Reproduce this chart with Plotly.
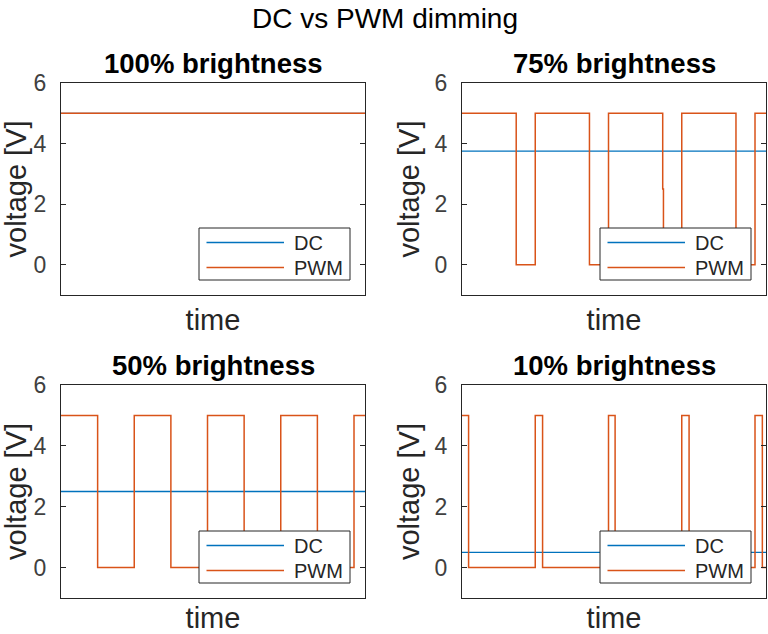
import plotly.graph_objects as go

W, H = 768, 634
BLUE = "#0072BD"
ORANGE = "#D95319"
AX = "#262626"
FONT = "Liberation Sans, Arial, sans-serif"

panel_titles = ["100% brightness", "75% brightness", "50% brightness", "10% brightness"]
legend_labels = ["DC", "PWM"]
dc_level = [5, 3.75, 2.5, 0.5]
t_end = 4.15

# PWM switching instants (in PWM periods) and the level held after each one
pwm100_t = [0.0]
pwm100_v = [5]
pwm75_t = [0.0, 0.74, 1.0, 1.74, 2.0, 2.74, 2.75, 3.0, 3.74, 4.0]
pwm75_v = [5, 0, 5, 0, 5, 2.5, 0, 5, 0, 5]
pwm50_t = [0.0, 0.5, 1.0, 1.5, 2.0, 2.5, 3.0, 3.5, 4.0]
pwm50_v = [5, 0, 5, 0, 5, 0, 5, 0, 5]
pwm10_t = [0.0, 0.09, 1.0, 1.1, 2.0, 2.09, 3.0, 3.1, 4.0, 4.1]
pwm10_v = [5, 0, 5, 0, 5, 0, 5, 0, 5, 0]

pwm_t = [pwm100_t, pwm75_t, pwm50_t, pwm10_t]
pwm_v = [pwm100_v, pwm75_v, pwm50_v, pwm10_v]

# panel boxes in pixels (left, right) / (top, bottom)
col_px = [(61, 365), (462, 766)]
row_px = [(83, 295), (385, 598)]

fig = go.Figure()
layout = {}
shapes = []
for i in range(4):
    r, c = divmod(i, 2)
    n = "" if i == 0 else str(i + 1)
    xa, ya = "x" + n, "y" + n
    x0, x1 = col_px[c]
    y0, y1 = row_px[r]
    aw, ah = x1 - x0, y1 - y0

    fig.add_trace(go.Scatter(
        x=[0, t_end], y=[dc_level[i], dc_level[i]], mode="lines", name=legend_labels[0],
        line=dict(color=BLUE, width=1.3), xaxis=xa, yaxis=ya, showlegend=False,
    ))
    fig.add_trace(go.Scatter(
        x=pwm_t[i] + [t_end], y=pwm_v[i] + [pwm_v[i][-1]], mode="lines",
        name=legend_labels[1], line=dict(color=ORANGE, width=1.5, shape="hv"),
        xaxis=xa, yaxis=ya, showlegend=False,
    ))

    layout["xaxis" + n] = dict(
        domain=[x0 / W, x1 / W], anchor=ya, range=[0, t_end],
        showticklabels=False, ticks="", showgrid=False, zeroline=False,
        showline=True, linecolor=AX, linewidth=1, mirror=True,
        title=dict(text="time", font=dict(size=29, color=AX), standoff=14),
        automargin=False,
    )
    layout["yaxis" + n] = dict(
        domain=[1 - y1 / H, 1 - y0 / H], anchor=xa, range=[-1, 6],
        tickvals=[0, 2, 4, 6], ticks="inside", ticklen=5, tickcolor=AX,
        tickfont=dict(size=23, color="#404040"), ticklabelstandoff=9,
        showgrid=False, zeroline=False,
        showline=True, linecolor=AX, linewidth=1, mirror="ticks",
        title=dict(text="voltage [V]", font=dict(size=29, color=AX), standoff=6),
        automargin=False,
    )
    fig.add_annotation(
        text="<b>%s</b>" % panel_titles[i], xref=xa + " domain", yref=ya + " domain",
        x=0.5, y=1, xanchor="center", yanchor="bottom", yshift=2, showarrow=False,
        font=dict(size=27.5, color="black"),
    )

    # MATLAB-style legend box in the lower right corner of each panel
    bx1, bx0 = aw - 15, aw - 15 - 151
    by0, by1 = 15, 15 + 52
    xd, yd = xa + " domain", ya + " domain"
    shapes.append(dict(type="rect", xref=xd, yref=yd,
                       x0=bx0 / aw, x1=bx1 / aw, y0=by0 / ah, y1=by1 / ah,
                       fillcolor="white", line=dict(color=AX, width=1), layer="above"))
    for k, (lab, col) in enumerate(zip(legend_labels, [BLUE, ORANGE])):
        yy = (by1 - 14.5 - 25 * k) / ah
        shapes.append(dict(type="line", xref=xd, yref=yd,
                           x0=(bx0 + 7.5) / aw, x1=(bx0 + 85) / aw, y0=yy, y1=yy,
                           line=dict(color=col, width=1.3), layer="above"))
        fig.add_annotation(
            text=lab, xref=xd, yref=yd, x=(bx0 + 93) / aw, y=yy,
            xanchor="left", yanchor="middle", showarrow=False,
            font=dict(size=20, color=AX),
        )

fig.update_layout(
    **layout,
    shapes=shapes,
    width=W, height=H, margin=dict(l=0, r=0, t=0, b=0),
    paper_bgcolor="white", plot_bgcolor="white",
    font=dict(family=FONT, color=AX),
    showlegend=False,
    title=dict(text="DC vs PWM dimming", x=385 / W, xanchor="center",
               y=1 - 18 / H, yanchor="middle", font=dict(size=28, color="black")),
)

# drop the default page margin so the figure fills the window exactly
fig.write_html("out.html", config={"displayModeBar": False},
               post_script="document.body.style.margin = '0';")
